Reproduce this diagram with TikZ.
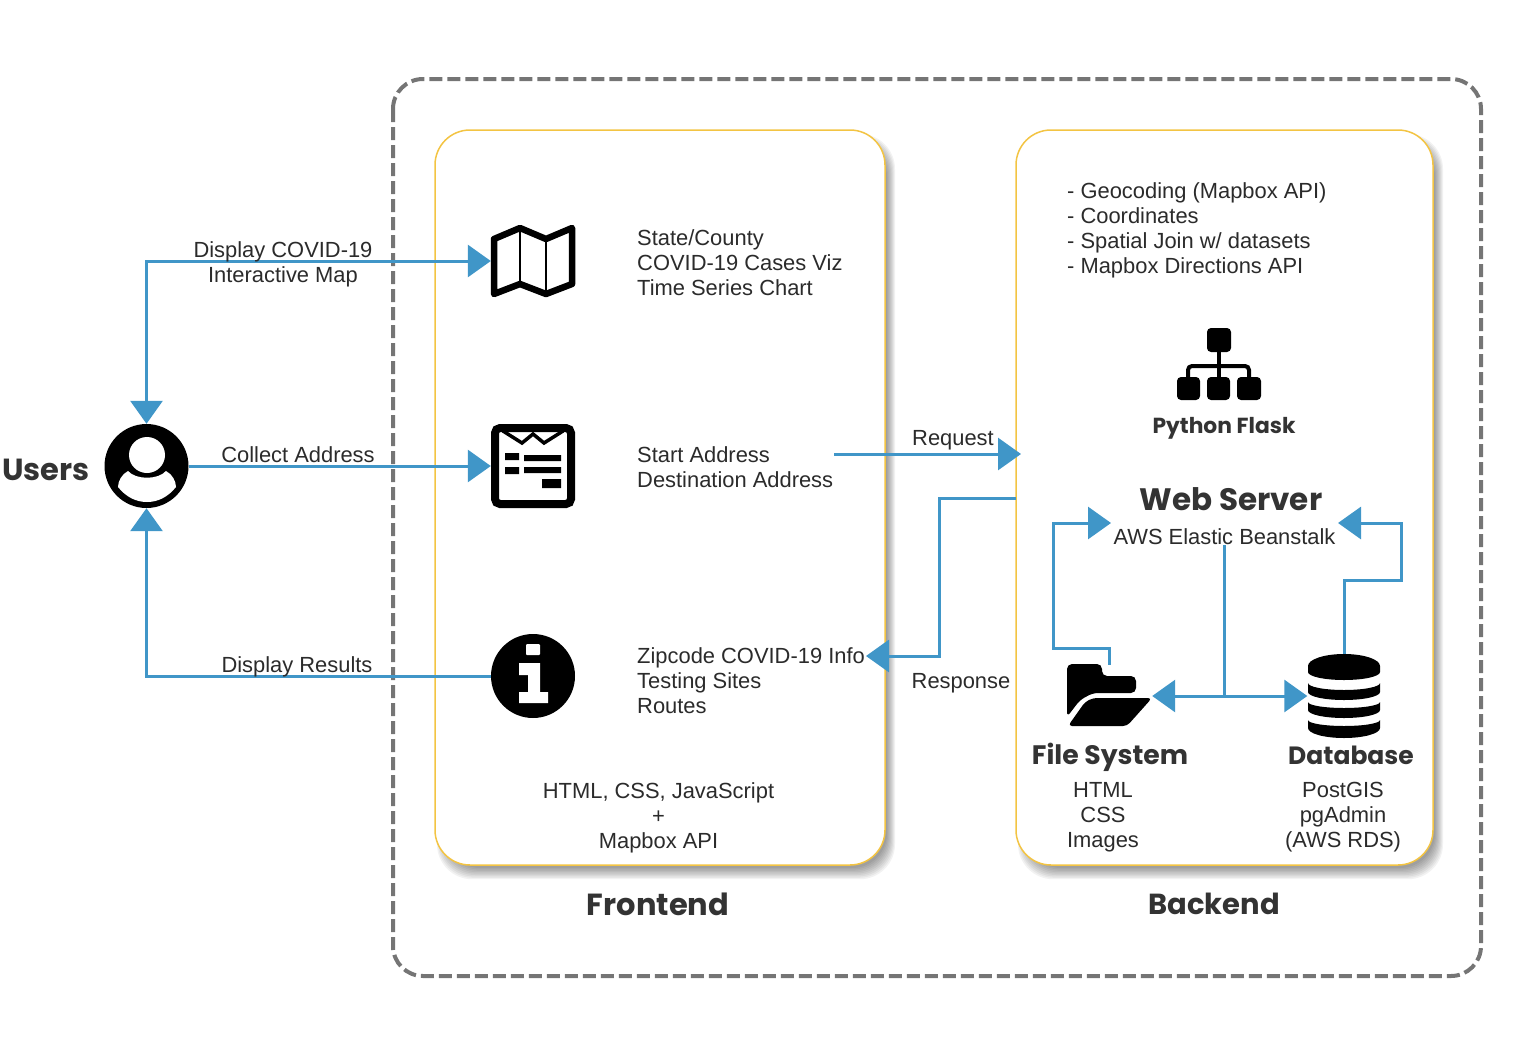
\documentclass[tikz,border=0pt]{standalone}
\usepackage{fontspec}
\setmainfont{Liberation Sans}
\newfontfamily\headfont{Poppins}
\usetikzlibrary{arrows.meta}
\definecolor{flowblue}{HTML}{4096C8}
\definecolor{boxyellow}{HTML}{F3C443}
\definecolor{dashgray}{HTML}{757575}
\definecolor{headgray}{HTML}{333333}
\definecolor{textgray}{HTML}{2B2B2B}
\tikzset{
	flow/.style={draw=flowblue, line width=3pt, arrows={-Triangle[length=23pt,width=32pt]}},
	flowboth/.style={flow, arrows={Triangle[length=23pt,width=32pt]-Triangle[length=23pt,width=32pt]}},
	flowplain/.style={draw=flowblue, line width=3pt},
	panel/.style={draw=boxyellow, line width=1.5pt, fill=white, rounded corners=35pt},
	body/.style={inner sep=0pt, text=textgray, font=\fontsize{21.9}{25}\selectfont},
	bodyleft/.style={body, anchor=west, align=left},
	bodymid/.style={body, align=center},
	head/.style={inner sep=0pt, text=headgray, font=\headfont\bfseries\fontsize{#1}{32}\selectfont},
	spot/.style={inner sep=0pt, minimum width=#1, minimum height=#1},
	spot/.default=84pt
}
\begin{document}
\begin{tikzpicture}[x=1pt,y=-1pt]
\useasboundingbox (0,0) rectangle (1520,1036);
% backend and frontend frames
\draw[dashgray, line width=4pt, dash pattern=on 13pt off 5pt, rounded corners=30pt] (393,79) rectangle (1481,976);
\foreach \grow in {0,...,8}{
	\fill[black, opacity=0.05, rounded corners=35pt] (445-\grow,142-\grow) rectangle (887+\grow,868+\grow*1.4);
	\fill[black, opacity=0.05, rounded corners=35pt] (1026-\grow,142-\grow) rectangle (1435+\grow,868+\grow*1.4);
}
\node[panel, minimum width=450pt, minimum height=735pt] (frontend) at (660,497.5) {};
\node[panel, minimum width=417pt, minimum height=735pt] (backend) at (1224.5,497.5) {};

% icon places
\node[spot, circle] (user) at (146.5,466) {};
\node[spot] (map) at (533,261) {};
\node[spot] (form) at (533,466) {};
\node[spot, circle] (info) at (533,676) {};
\node[spot=62pt, minimum width=85pt] (folder) at (1109.5,696) {};
\node[spot=84pt, minimum width=73pt] (db) at (1344,696) {};

% icons
\fill[black] (user) circle (42);
\fill[white] (147,455) circle (18);
\fill[white] (128,471) .. controls (136,480) and (158,480) .. (166,471) .. controls (172,474) and (176,481) .. (176,487) .. controls (168,497) and (158,502) .. (147,502) .. controls (136,502) and (126,497) .. (118,487) .. controls (118,481) and (122,474) .. (128,471) -- cycle;

\draw[black, line width=6.5pt, line join=round] (494,239) -- (520,228) -- (546,239) -- (572,228) -- (572,284) -- (546,294) -- (520,284) -- (494,294) -- cycle;
\draw[black, line width=1.5pt] (520,228) -- (520,284) (546,239) -- (546,294);

\draw[black, line width=8pt, rounded corners=5pt] (495,428) rectangle (571,504);
\draw[black, line width=3.5pt] (503,431) -- (522,443) -- (533,434) -- (544,443) -- (563,431);
\fill[black] (505,453) rectangle (519,460) (524,455) rectangle (561,461) (505,467) rectangle (519,474) (524,467) rectangle (561,473) (542,479) rectangle (561,488);

\fill[black] (info) circle (42);
\fill[white, rounded corners=1pt] (526,644) rectangle (540,655);
\fill[white] (519,663) -- (540,663) -- (540,692) -- (548,692) -- (548,703) -- (519,703) -- (519,692) -- (528,692) -- (528,675) -- (519,675) -- cycle;

\fill[black, rounded corners=4pt] (1207,328) rectangle (1231,352);
\fill[black, rounded corners=4pt] (1177,377) rectangle (1200,400) (1207,377) rectangle (1230,400) (1237,377) rectangle (1261,400);
\draw[black, line width=4pt] (1219,352) -- (1219,377);
\draw[black, line width=4pt, rounded corners=4pt] (1188,377) -- (1188,366) -- (1249,366) -- (1249,377);

\fill[black, rounded corners=5pt] (1067,717) -- (1067,664) -- (1102,664) -- (1102,676) -- (1136,676) -- (1136,693) -- (1093,693) -- (1080,700) -- cycle;
\fill[black, rounded corners=4pt] (1152,698) -- (1093,698) -- (1085,702) -- (1068,726) -- (1127,726) -- cycle;

\fill[black] (1308,666) arc[start angle=180, end angle=360, x radius=36, y radius=12] -- (1380,672) arc[start angle=0, end angle=180, x radius=36, y radius=8] -- cycle;
\foreach \ytop/\ybot/\rtop/\rbot in {683/692/7/8,702/710/6/8,720/728/6/10}{
	\fill[black] (1308,\ytop) arc[start angle=180, end angle=0, x radius=36, y radius=\rtop] -- (1380,\ybot) arc[start angle=0, end angle=180, x radius=36, y radius=\rbot] -- cycle;
}

% connectors
\node[bodymid] (aws) at (1224.5,537) {AWS Elastic Beanstalk};

\coordinate (reqstart) at (834,454);
\coordinate (reqtip) at (1021,454);
\coordinate (respstart) at (1016,498);
\coordinate (resptip) at (866,656);
\coordinate (wsleft) at (1111,523);
\coordinate (wsright) at (1338,523);
\coordinate (hub) at (aws.south |- db.west);

\path[flowboth] (user.north) |- (map.west);
\path[flow] (user.east) -- (form.west);
\path[flow] (info.west) -| (user.south);
\path[flow] (reqstart) -- (reqtip);
\path[flow] (respstart) -- (939.5,498) |- (resptip);
\path[flow] (folder.north) |- (1053.5,648) |- (wsleft);
\path[flow] (db.north) |- (1401.5,580) |- (wsright);
\path[flowplain] (aws.south) -- (hub);
\path[flowboth] (folder.east) -- (db.west);

% labels
\node[head=30.5] (userstitle) at (46,470) {Users};
\node[bodymid] (mapflow) at (283,264.5) {Display COVID-19\\Interactive Map};
\node[bodymid] (formflow) at (298,455) {Collect Address};
\node[bodymid] (infoflow) at (297,667) {Display Results};
\node[bodyleft] (maptext) at (637,263) {State/County\\COVID-19 Cases Viz\\Time Series Chart};
\node[bodyleft] (formtext) at (637,467.5) {Start Address\\Destination Address};
\node[bodyleft] (infotext) at (637,681) {Zipcode COVID-19 Info\\Testing Sites\\Routes};
\node[bodymid] (stack) at (658.5,817.5) {HTML, CSS, JavaScript\\+\\Mapbox API};
\node[bodymid] (request) at (953,440) {Request};
\node[bodymid] (response) at (961,683) {Response};
\node[bodyleft] (tasks) at (1067,230.5) {- Geocoding (Mapbox API)\\- Coordinates\\- Spatial Join w/ datasets\\- Mapbox Directions API};
\node[head=21.8] (flask) at (1224,428) {Python Flask};
\node[head=31] (webserver) at (1231,499) {Web Server};
\node[head=26.7] (filesys) at (1110,757) {File System};
\node[head=25] (database) at (1351,755) {Database};
\node[bodymid] (filetext) at (1103,817) {HTML\\CSS\\Images};
\node[bodymid] (dbtext) at (1343,817) {PostGIS\\pgAdmin\\(AWS RDS)};
\node[head=30.5] (fronttitle) at (658,904) {Frontend};
\node[head=29] (backtitle) at (1214,904) {Backend};
\end{tikzpicture}
\end{document}
